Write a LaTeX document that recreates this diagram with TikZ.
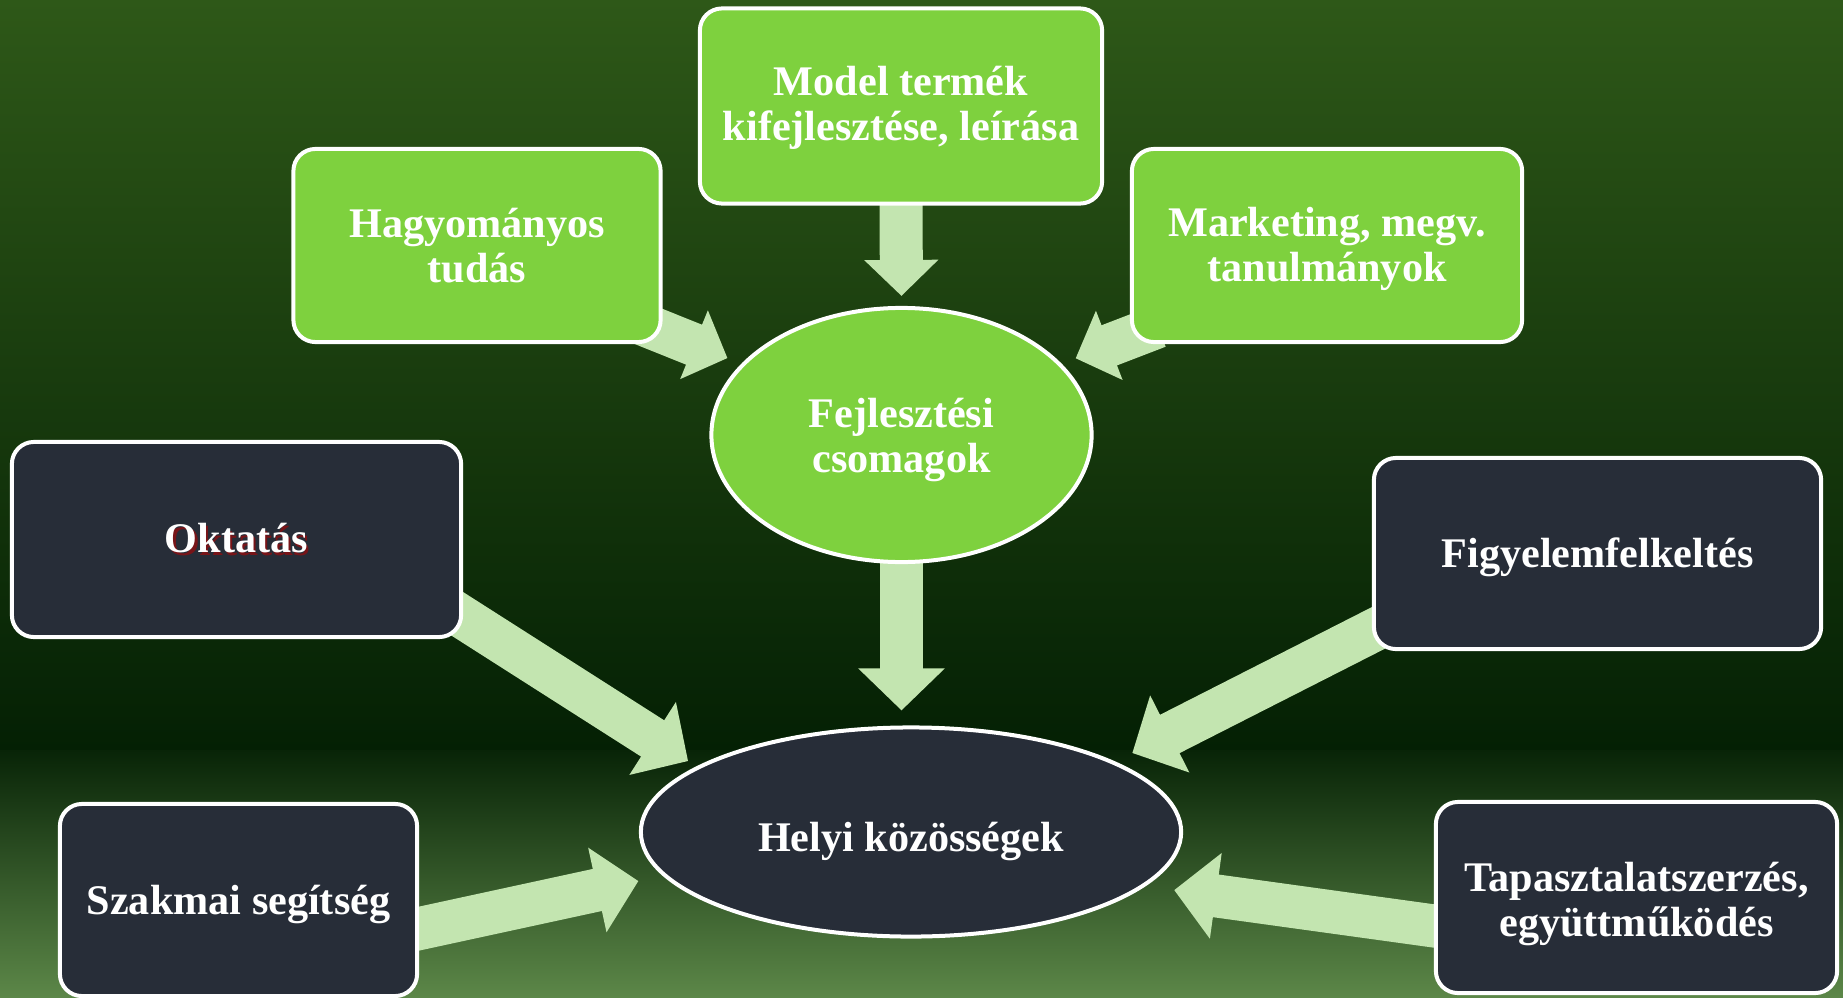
\documentclass[tikz,border=0pt]{standalone}
\usepackage{fontspec}
\setmainfont{Liberation Serif}
\usetikzlibrary{arrows.meta,shapes.geometric}

\definecolor{boxgreen}{RGB}{126,209,62}
\definecolor{boxdark}{RGB}{39,45,56}
\definecolor{arrowgreen}{RGB}{195,229,176}
\definecolor{bgtop}{RGB}{46,88,24}
\definecolor{bgmid}{RGB}{4,32,4}
\definecolor{bglow}{RGB}{8,36,7}
\definecolor{bgbottom}{RGB}{92,135,72}
\definecolor{shadowred}{RGB}{120,20,24}

% text lowered inside its box, box size kept
\newcommand{\lowered}[2]{\raisebox{-#1}[\height][\depth]{#2}}

\pgfdeclarelayer{bg}
\pgfdeclarelayer{links}
\pgfsetlayers{bg,links,main}

\begin{document}
\begin{tikzpicture}[x=0.01cm, y=-0.01cm,
    greenbox/.style={
        rectangle,
        rounded corners=0.22cm,
        draw=white,
        line width=0.04cm,
        fill=boxgreen,
        text=white,
        font=\fontsize{12}{12.8}\selectfont\bfseries,
        align=center
    },
    darkbox/.style={
        greenbox,
        fill=boxdark
    },
    greenoval/.style={
        greenbox,
        ellipse,
        rounded corners=0pt,
        inner sep=0pt
    },
    darkoval/.style={
        greenoval,
        fill=boxdark
    },
    bigarrow/.style={
        draw=arrowgreen,
        line width=0.43cm,
        -{Triangle[width=0.84cm,length=0.42cm]},
        shorten <=-0.3cm
    },
    smallarrow/.style={
        bigarrow,
        -{Triangle[width=0.72cm,length=0.36cm]}
    }
]

\useasboundingbox (0,0) rectangle (1843,997);

% Background
\begin{pgfonlayer}{bg}
\fill[top color=bgtop, bottom color=bgmid] (0,0) rectangle (1843,750);
\fill[top color=bglow, bottom color=bgbottom] (0,750) rectangle (1843,997);
\end{pgfonlayer}

% Top boxes
\node[greenbox, minimum width=4.02cm, minimum height=1.95cm] (model) at (901,106)
    {\lowered{0.02cm}{Model termék}\\\lowered{0.02cm}{kifejlesztése, leírása}};
\node[greenbox, minimum width=3.67cm, minimum height=1.93cm] (hag) at (477,245.5) {Hagyományos\\tudás};
\node[greenbox, minimum width=3.90cm, minimum height=1.93cm] (mkt) at (1327,245.5)
    {\lowered{0.035cm}{Marketing, megv.}\\\lowered{0.035cm}{tanulmányok}};

% Centre
\node[greenoval, minimum width=3.80cm, minimum height=2.54cm] (fejl) at (901.5,435)
    {\lowered{0.045cm}{Fejlesztési}\\\lowered{0.045cm}{csomagok}};
\node[darkoval, minimum width=5.40cm, minimum height=2.09cm] (helyi) at (911,832)
    {\lowered{0.095cm}{Helyi közösségek}};

% Side boxes
\node[darkbox, minimum width=4.49cm, minimum height=1.95cm] (okt) at (236.5,539.5)
    {\makebox[0pt][l]{\hspace{0.6pt}\raisebox{-0.6pt}{\color{shadowred}Oktatás}}Oktatás};
\node[darkbox, minimum width=4.47cm, minimum height=1.91cm] (figy) at (1597.5,553.5)
    {\lowered{0.035cm}{Figyelemfelkeltés}};
\node[darkbox, minimum width=3.57cm, minimum height=1.92cm] (szak) at (238.5,900)
    {\lowered{0.045cm}{Szakmai segítség}};
\node[darkbox, minimum width=4.01cm, minimum height=1.91cm] (tap) at (1636.5,897.5)
    {\lowered{0.065cm}{Tapasztalatszerzés,}\\\lowered{0.065cm}{együttműködés}};

% Arrows
\begin{pgfonlayer}{links}
\draw[smallarrow, shorten >=0.10cm] (model.south) -- (fejl.north);
\draw[smallarrow, shorten >=0.15cm] (hag.-25) -- (fejl.156);
\draw[smallarrow, shorten >=0.15cm] (mkt.-155) -- (fejl.24);
\draw[bigarrow, shorten >=0.15cm] (fejl.south) -- (fejl.south |- helyi.north);
\draw[bigarrow, shorten >=0.10cm] (okt.-19) -- (helyi.163);
\draw[bigarrow, shorten >=0.19cm] (figy.199) -- (helyi.19);
\draw[bigarrow, shorten >=0.25cm] (szak.-9.5) -- (helyi.190);
\draw[bigarrow, shorten >=0.29cm] (tap.188) -- (helyi.-13);
\end{pgfonlayer}

\end{tikzpicture}
\end{document}
